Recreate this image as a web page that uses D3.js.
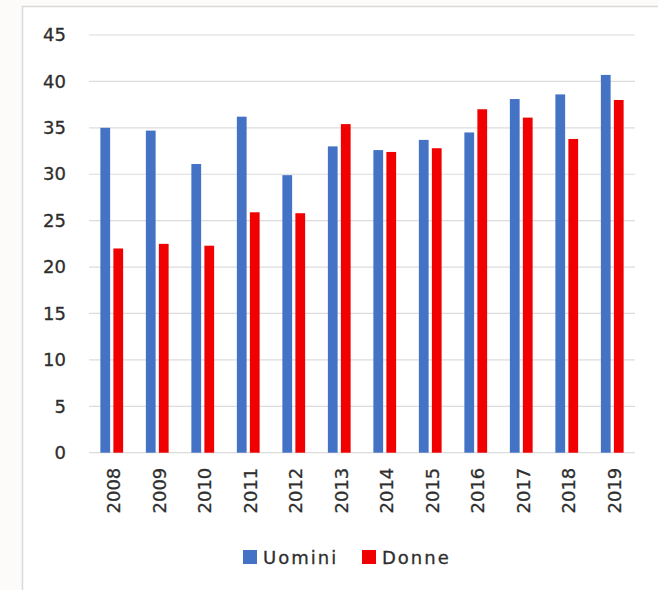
<!DOCTYPE html>
<html>
<head>
<meta charset="utf-8">
<script src="https://cdn.jsdelivr.net/npm/d3@7"></script>
<style>
  html, body { margin: 0; padding: 0; background: #fcfbfa; }
  svg { display: block; }
  text { font-family: "DejaVu Sans", sans-serif; fill: #2e2e2e; stroke: #2e2e2e; stroke-width: 0.3px; }
</style>
</head>
<body>
<svg id="chart" width="658" height="590"></svg>
<script>
// Years on the category axis
const years = ["2008","2009","2010","2011","2012","2013","2014","2015","2016","2017","2018","2019"];
// Series values
const uomini = [35.0, 34.7, 31.1, 36.2, 29.9, 33.0, 32.6, 33.7, 34.5, 38.1, 38.6, 40.7];
const donne  = [22.0, 22.5, 22.3, 25.9, 25.8, 35.4, 32.4, 32.8, 37.0, 36.1, 33.8, 38.0];
// Series names and colours
const seriesNames = ["Uomini", "Donne"];
const seriesColors = ["#4472c4", "#f00000"];
// Value axis ticks
const yTicks = [0, 5, 10, 15, 20, 25, 30, 35, 40, 45];

const series = [uomini, donne];
const svg = d3.select("#chart");

// Panel with its light frame
svg.append("rect")
  .attr("x", 22.5).attr("y", 6.5)
  .attr("width", 700).attr("height", 700)
  .attr("fill", "#ffffff")
  .attr("stroke", "#d9d9d9")
  .attr("stroke-width", 1.5);

const plot = { left: 89, right: 635, top: 35, bottom: 452.7 };

const x = d3.scaleBand()
  .domain(years)
  .range([plot.left, plot.right])
  .padding(0);

const groupWidth = x.bandwidth() * 0.5;
const xs = d3.scaleBand()
  .domain(seriesNames)
  .range([0, groupWidth])
  .paddingInner(0.25)
  .paddingOuter(0);

const y = d3.scaleLinear()
  .domain([0, 45])
  .range([plot.bottom, plot.top]);

// Horizontal gridlines
svg.append("g")
  .selectAll("line")
  .data(yTicks)
  .join("line")
  .attr("x1", plot.left).attr("x2", plot.right)
  .attr("y1", d => y(d)).attr("y2", d => y(d))
  .attr("stroke", "#dcdcdc")
  .attr("stroke-width", 1.2);

// Value axis labels
const yAxis = svg.append("g")
  .attr("transform", `translate(${plot.left - 23},0)`)
  .call(d3.axisLeft(y).tickValues(yTicks).tickSize(0).tickPadding(0));
yAxis.select(".domain").remove();
yAxis.selectAll("text")
  .attr("font-size", 18)
  .attr("font-family", "DejaVu Sans, sans-serif")
  .attr("fill", "#2e2e2e");

// Bars
const groups = svg.append("g")
  .selectAll("g")
  .data(years)
  .join("g")
  .attr("transform", d => `translate(${x(d) + (x.bandwidth() - groupWidth) / 2},0)`);

groups.selectAll("rect")
  .data((d, i) => seriesNames.map((s, k) => ({ s, k, v: series[k][i] })))
  .join("rect")
  .attr("x", d => xs(d.s))
  .attr("width", xs.bandwidth())
  .attr("y", d => y(d.v))
  .attr("height", d => y(0) - y(d.v))
  .attr("fill", d => seriesColors[d.k]);

// Category axis labels, rotated
const xAxis = svg.append("g")
  .attr("transform", `translate(0,${plot.bottom + 15})`)
  .call(d3.axisBottom(x).tickSize(0).tickPadding(0));
xAxis.select(".domain").remove();
xAxis.selectAll(".tick text")
  .attr("font-size", 18)
  .attr("font-family", "DejaVu Sans, sans-serif")
  .attr("fill", "#2e2e2e")
  .attr("text-anchor", "end")
  .attr("dy", null)
  .attr("y", 0)
  .attr("dominant-baseline", "central")
  .attr("transform", "translate(2,0) rotate(-90)");

// Legend
const legendItems = [
  { name: seriesNames[0], color: seriesColors[0], x: 243 },
  { name: seriesNames[1], color: seriesColors[1], x: 362 }
];
const legend = svg.append("g");
legend.selectAll("rect")
  .data(legendItems)
  .join("rect")
  .attr("x", d => d.x).attr("y", 550)
  .attr("width", 14).attr("height", 14)
  .attr("fill", d => d.color);
legend.selectAll("text")
  .data(legendItems)
  .join("text")
  .attr("x", d => d.x + 20)
  .attr("y", 557)
  .attr("dominant-baseline", "central")
  .attr("font-size", 18)
  .attr("letter-spacing", "2px")
  .text(d => d.name);
</script>
</body>
</html>
